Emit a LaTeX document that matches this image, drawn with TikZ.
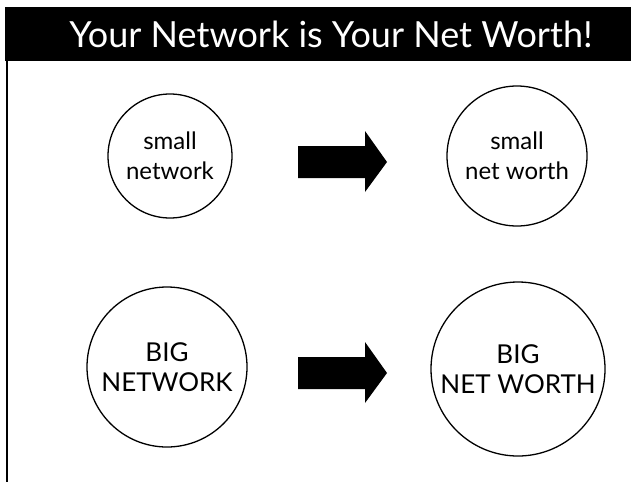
\documentclass[tikz,border=0pt]{standalone}
\usepackage{fontspec}
\setmainfont{Lato}
\begin{document}
\begin{tikzpicture}[x=1pt,y=-1pt,
  bubble/.style={circle,draw=black,line width=1.3pt,inner sep=0pt,align=center},
  lowtext/.style={font=\fontsize{24}{30}\selectfont},
  captext/.style={font=\fontsize{26}{30}\selectfont},
  blockarrow/.style={fill=black},
  title/.style={text=white,font=\fontsize{36}{40}\selectfont,inner sep=0pt}]
\useasboundingbox (0,0) rectangle (631,482);
\fill[black] (5,7) rectangle (631,61);
\node[title] (t) at (331,34) {Your Network is Your Net Worth!};
\draw[line width=1.5pt] (7,61) -- (7,482);
\node[bubble,lowtext,minimum size=124pt] (sn) at (170,156) {small\\network};
\node[bubble,lowtext,minimum size=140pt] (snw) at (517,156) {small\\net worth};
\node[bubble,captext,minimum size=160pt] (bn) at (167,367) {BIG\\NETWORK};
\node[bubble,captext,minimum size=174pt] (bnw) at (518,369) {BIG\\NET WORTH};
\fill[blockarrow] (298,146) -- (365,146) -- (365,131) -- (387,162) -- (365,192) -- (365,178) -- (298,178) -- cycle;
\fill[blockarrow] (298,357) -- (365,357) -- (365,342) -- (387,373) -- (365,403) -- (365,389) -- (298,389) -- cycle;
\end{tikzpicture}
\end{document}
